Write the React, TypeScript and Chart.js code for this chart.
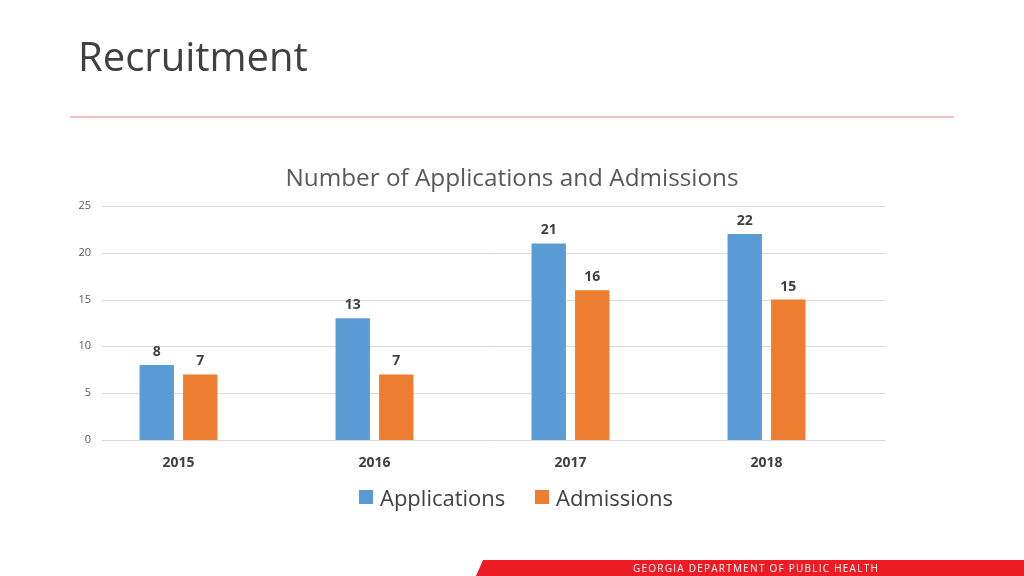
import React, { useEffect, useRef } from "react";
import { Chart, registerables } from "chart.js";

Chart.register(...registerables);

const categories = ["2015", "2016", "2017", "2018"];
const applications = [8, 13, 21, 22];
const admissions = [7, 7, 16, 15];
const yTicks = [0, 5, 10, 15, 20, 25];
const seriesNames = ["Applications", "Admissions"];
const seriesColors = ["#5b9bd5", "#ed7d31"];

const FONT = "'Open Sans', 'Noto Sans', sans-serif";

// gridlines and y labels that extend beyond the category band (as in the Excel original)
const gridLines = {
  id: "gridLines",
  beforeDatasetsDraw(chart: any) {
    const ctx = chart.ctx;
    const y = chart.scales.y;
    const x0 = chart.chartArea.left + 21.5;
    const x1 = chart.chartArea.right + 20.5;
    ctx.save();
    ctx.strokeStyle = "#d9d9d9";
    ctx.lineWidth = 1;
    ctx.font = `11px ${FONT}`;
    ctx.fillStyle = "#595959";
    ctx.textAlign = "right";
    ctx.textBaseline = "middle";
    yTicks.forEach((v) => {
      const py = Math.round(y.getPixelForValue(v)) + 0.5;
      ctx.beginPath();
      ctx.moveTo(x0, py);
      ctx.lineTo(x1, py);
      ctx.stroke();
      ctx.fillText(String(v), x0 - 11, py - 1);
    });
    ctx.restore();
  },
};

const valueLabels = {
  id: "valueLabels",
  afterDatasetsDraw(chart: any) {
    const ctx = chart.ctx;
    ctx.save();
    ctx.font = `bold 14px ${FONT}`;
    ctx.fillStyle = "#404040";
    ctx.textAlign = "center";
    ctx.textBaseline = "bottom";
    chart.data.datasets.forEach((ds: any, i: number) => {
      const meta = chart.getDatasetMeta(i);
      meta.data.forEach((bar: any, j: number) => {
        ctx.fillText(String(ds.data[j]), bar.x, bar.y - 6);
      });
    });
    ctx.restore();
  },
};

function BarChart() {
  const ref = useRef<HTMLCanvasElement>(null);
  useEffect(() => {
    if (!ref.current) return;
    const chart = new Chart(ref.current, {
      type: "bar",
      data: {
        labels: categories,
        datasets: [
          {
            label: seriesNames[0],
            data: applications,
            backgroundColor: seriesColors[0],
            categoryPercentage: 0.444,
            barPercentage: 0.79,
          },
          {
            label: seriesNames[1],
            data: admissions,
            backgroundColor: seriesColors[1],
            categoryPercentage: 0.444,
            barPercentage: 0.79,
          },
        ],
      },
      options: {
        animation: false,
        responsive: false,
        maintainAspectRatio: false,
        layout: { padding: { left: 0, right: 159.5, top: 206, bottom: 96 } },
        plugins: {
          title: { display: false },
          legend: { display: false },
          tooltip: { enabled: false },
        },
        scales: {
          x: {
            afterFit: (axis: any) => {
              axis.height = 40;
            },
            grid: { display: false, drawTicks: false },
            border: { display: false },
            ticks: {
              color: "#404040",
              font: { family: FONT, size: 14, weight: "bold" },
              padding: 15,
            },
          },
          y: {
            min: 0,
            max: 25,
            afterBuildTicks: (axis: any) => {
              axis.ticks = yTicks.map((v) => ({ value: v }));
            },
            afterFit: (axis: any) => {
              axis.width = 80.5;
            },
            grid: { display: false, drawTicks: false },
            border: { display: false },
            ticks: { display: false },
          },
        },
      },
      plugins: [gridLines, valueLabels],
    });
    return () => chart.destroy();
  }, []);
  return (
    <canvas
      ref={ref}
      width={1024}
      height={576}
      style={{ position: "absolute", left: 0, top: 0, width: 1024, height: 576 }}
    />
  );
}

const legendLeft = [359, 535];

export default function App() {
  return (
    <div
      style={{
        position: "fixed",
        left: 0,
        top: 0,
        width: 1024,
        height: 576,
        background: "#ffffff",
        overflow: "hidden",
        fontFamily: FONT,
      }}
    >
      <BarChart />
      <div
        style={{
          position: "absolute",
          left: 78,
          top: 28,
          fontSize: 40,
          lineHeight: "56px",
          color: "#404040",
        }}
      >
        Recruitment
      </div>
      <div
        style={{
          position: "absolute",
          left: 70,
          top: 116,
          width: 884,
          height: 2,
          background: "#f6c1c4",
        }}
      />
      <div
        style={{
          position: "absolute",
          left: 212,
          top: 160,
          width: 600,
          textAlign: "center",
          fontSize: 24.3,
          lineHeight: "34px",
          color: "#595959",
          whiteSpace: "nowrap",
        }}
      >
        Number of Applications and Admissions
      </div>
      {seriesNames.map((name, i) => (
        <div
          key={name}
          style={{
            position: "absolute",
            left: legendLeft[i],
            top: 481,
            height: 32,
            display: "flex",
            alignItems: "center",
            whiteSpace: "nowrap",
          }}
        >
          <span
            style={{
              display: "inline-block",
              width: 14,
              height: 14,
              background: seriesColors[i],
              marginRight: 7,
            }}
          />
          <span style={{ fontSize: 22, color: "#404040", lineHeight: "32px" }}>
            {name}
          </span>
        </div>
      ))}
      <div
        style={{
          position: "absolute",
          left: 476,
          top: 560,
          width: 548,
          height: 16,
          background: "#ed1c24",
          clipPath: "polygon(7px 0, 100% 0, 100% 100%, 0 100%)",
        }}
      />
      <div
        style={{
          position: "absolute",
          left: 600,
          top: 560,
          width: 312,
          height: 16,
          lineHeight: "16px",
          textAlign: "center",
          fontSize: 10,
          letterSpacing: 1.25,
          color: "#ffffff",
        }}
      >
        GEORGIA DEPARTMENT OF PUBLIC HEALTH
      </div>
    </div>
  );
}
